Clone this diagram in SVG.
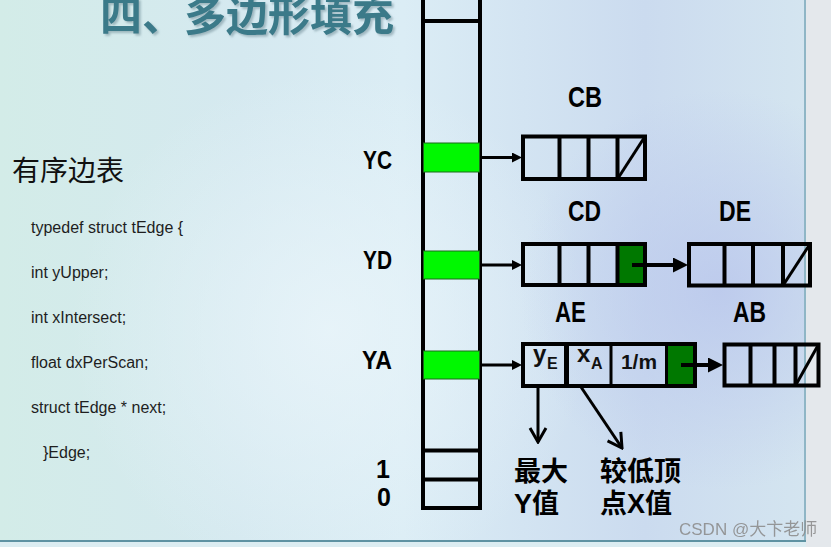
<svg xmlns="http://www.w3.org/2000/svg" width="831" height="547" viewBox="0 0 831 547">
<defs>
  <linearGradient id="bg" x1="0" y1="0" x2="1" y2="0">
    <stop offset="0" stop-color="#d3ece8"/>
    <stop offset="0.3" stop-color="#d5e9f0"/>
    <stop offset="0.5" stop-color="#dbedf5"/>
    <stop offset="0.8" stop-color="#cbdbef"/>
    <stop offset="1" stop-color="#d4e5f0"/>
  </linearGradient>
  <radialGradient id="blob" cx="720" cy="290" r="200" gradientUnits="userSpaceOnUse">
    <stop offset="0" stop-color="#b9c6ec" stop-opacity="0.8"/>
    <stop offset="1" stop-color="#b9c6ec" stop-opacity="0"/>
  </radialGradient>
  <radialGradient id="glow" cx="330" cy="330" r="260" gradientUnits="userSpaceOnUse">
    <stop offset="0" stop-color="#eaf5fa" stop-opacity="0.8"/>
    <stop offset="1" stop-color="#eaf5fa" stop-opacity="0"/>
  </radialGradient>
  <filter id="shadow" x="-5%" y="-30%" width="110%" height="160%">
    <feDropShadow dx="2" dy="2" stdDeviation="0.8" flood-color="#6f8f98" flood-opacity="0.55"/>
  </filter>
  <marker id="tri" viewBox="0 0 10 10" refX="4" refY="5" markerWidth="10" markerHeight="10" markerUnits="userSpaceOnUse" orient="auto">
    <path d="M0,0 L10,5 L0,10 z" fill="#000"/>
  </marker>
  <marker id="triBig" viewBox="0 0 15 15" refX="7" refY="7.5" markerWidth="15" markerHeight="15" markerUnits="userSpaceOnUse" orient="auto">
    <path d="M0,0 L15,7.5 L0,15 z" fill="#000"/>
  </marker>
  <marker id="vee" viewBox="-2 -11 18 22" refX="14" refY="0" markerWidth="18" markerHeight="22" markerUnits="userSpaceOnUse" orient="auto">
    <path d="M0,-8 L14,0 L0,8" fill="none" stroke="#000" stroke-width="3"/>
  </marker>
  <style>
    .box{fill:none;stroke:#000;stroke-width:4}
    .div{stroke:#000;stroke-width:4}
    .grn{fill:#00f800;stroke:#1a6a1a;stroke-width:1}
    .dg{fill:#007800}
    .lbl{font-family:"Liberation Sans",Arial,sans-serif;font-weight:bold;font-size:30px;fill:#000}
    .ylbl{font-family:"Liberation Sans",Arial,sans-serif;font-weight:bold;font-size:25px;fill:#000}
    .cell{font-family:"Liberation Sans",Arial,sans-serif;font-weight:bold;fill:#111}
    .cjk{font-family:"Liberation Sans","Noto Sans CJK SC",sans-serif;font-weight:bold;font-size:27px;fill:#000}
    .code{font-family:"Liberation Sans",Arial,sans-serif;font-size:16px;fill:#1e1e1e}
    .conn{stroke:#000;stroke-width:3;fill:none}
  </style>
</defs>

<!-- background -->
<rect x="0" y="0" width="831" height="547" fill="#e4e8ec"/>
<rect x="0" y="0" width="806" height="541" fill="url(#bg)"/>
<rect x="0" y="0" width="806" height="541" fill="url(#glow)"/>
<rect x="0" y="0" width="806" height="541" fill="url(#blob)"/>
<rect x="0" y="542" width="806" height="5" fill="#dcedf2"/>
<line x1="805" y1="0" x2="805" y2="541" stroke="#8fb6c6" stroke-width="2"/>
<line x1="0" y1="541" x2="806" y2="541" stroke="#5f93a3" stroke-width="2"/>

<!-- title -->
<g id="title">
  <text x="100" y="31" font-family="'Noto Sans CJK SC',sans-serif" font-weight="bold" font-size="42" fill="#3a7a89" filter="url(#shadow)">四、多边形填充</text>
</g>

<!-- left code -->
<g id="code">
  <text x="12" y="181" font-family="'Noto Sans CJK SC',sans-serif" font-size="28" fill="#111">有序边表</text>
  <text class="code" x="31" y="233">typedef struct tEdge {</text>
  <text class="code" x="31" y="278">int yUpper;</text>
  <text class="code" x="31" y="323">int xIntersect;</text>
  <text class="code" x="31" y="368">float dxPerScan;</text>
  <text class="code" x="31" y="413">struct tEdge * next;</text>
  <text class="code" x="43" y="458">}Edge;</text>
</g>

<!-- bucket column -->
<g id="bucket">
  <rect class="box" x="423" y="-10" width="57" height="518"/>
  <line class="div" x1="423" y1="21" x2="480" y2="21"/>
  <line class="div" x1="423" y1="450.5" x2="480" y2="450.5"/>
  <line class="div" x1="423" y1="479.5" x2="480" y2="479.5"/>
  <rect class="grn" x="423.5" y="143" width="56" height="29"/>
  <rect class="grn" x="423.5" y="251" width="56" height="28"/>
  <rect class="grn" x="423.5" y="351" width="56" height="28"/>
  <text class="ylbl" x="363" y="169" textLength="29" lengthAdjust="spacingAndGlyphs">YC</text>
  <text class="ylbl" x="363" y="269" textLength="29" lengthAdjust="spacingAndGlyphs">YD</text>
  <text class="ylbl" x="362" y="369" textLength="30" lengthAdjust="spacingAndGlyphs">YA</text>
  <text class="ylbl" x="383" y="478" font-size="24" text-anchor="middle">1</text>
  <text class="ylbl" x="384" y="506" font-size="24" text-anchor="middle">0</text>
</g>

<!-- CB -->
<g id="node-CB">
  <text class="lbl" x="568" y="107" textLength="34" lengthAdjust="spacingAndGlyphs">CB</text>
  <rect class="box" x="523" y="136.5" width="122" height="42.5"/>
  <line class="div" x1="559.5" y1="136.5" x2="559.5" y2="179"/>
  <line class="div" x1="588.5" y1="136.5" x2="588.5" y2="179"/>
  <line class="div" x1="617.5" y1="136.5" x2="617.5" y2="179"/>
  <line x1="617.5" y1="179" x2="645" y2="136.5" stroke="#000" stroke-width="3"/>
</g>

<!-- CD -->
<g id="node-CD">
  <text class="lbl" x="568" y="221" textLength="33" lengthAdjust="spacingAndGlyphs">CD</text>
  <rect class="dg" x="617.5" y="244" width="27.5" height="41"/>
  <rect class="box" x="523" y="244" width="122" height="41"/>
  <line class="div" x1="559.5" y1="244" x2="559.5" y2="285"/>
  <line class="div" x1="588.5" y1="244" x2="588.5" y2="285"/>
  <line class="div" x1="617.5" y1="244" x2="617.5" y2="285"/>
</g>

<!-- DE -->
<g id="node-DE">
  <text class="lbl" x="719" y="221" textLength="32" lengthAdjust="spacingAndGlyphs">DE</text>
  <rect class="box" x="689" y="244" width="121" height="41.5"/>
  <line class="div" x1="724.5" y1="244" x2="724.5" y2="285.5"/>
  <line class="div" x1="753" y1="244" x2="753" y2="285.5"/>
  <line class="div" x1="783" y1="244" x2="783" y2="285.5"/>
  <line x1="783" y1="285.5" x2="810" y2="244" stroke="#000" stroke-width="3"/>
</g>

<!-- AE -->
<g id="node-AE">
  <text class="lbl" x="555" y="322" textLength="31" lengthAdjust="spacingAndGlyphs">AE</text>
  <rect class="dg" x="667" y="344" width="28" height="42"/>
  <rect class="box" x="523" y="344" width="172" height="42"/>
  <line x1="566.5" y1="344" x2="566.5" y2="386" stroke="#000" stroke-width="5"/>
  <line x1="611" y1="344" x2="611" y2="386" stroke="#000" stroke-width="3"/>
  <line x1="666.5" y1="344" x2="666.5" y2="386" stroke="#000" stroke-width="3"/>
  <text class="cell" x="533" y="362" font-size="24">y</text>
  <text class="cell" x="547" y="369" font-size="16">E</text>
  <text class="cell" x="577" y="362" font-size="24">x</text>
  <text class="cell" x="591" y="369" font-size="16">A</text>
  <text class="cell" x="621" y="369" font-size="21" textLength="36" lengthAdjust="spacingAndGlyphs">1/m</text>
</g>

<!-- AB -->
<g id="node-AB">
  <text class="lbl" x="733" y="322" textLength="33" lengthAdjust="spacingAndGlyphs">AB</text>
  <rect class="box" x="724.5" y="344.5" width="94" height="41"/>
  <line class="div" x1="750.5" y1="344.5" x2="750.5" y2="385.5"/>
  <line class="div" x1="774.5" y1="344.5" x2="774.5" y2="385.5"/>
  <line class="div" x1="795.5" y1="344.5" x2="795.5" y2="385.5"/>
  <line x1="795.5" y1="385.5" x2="818.5" y2="344.5" stroke="#000" stroke-width="3"/>
</g>

<!-- annotations -->
<g id="label-ymax">
  <text class="cjk" x="514" y="481">最大</text>
  <text class="cjk" x="514" y="513">Y值</text>
</g>
<g id="label-xlow">
  <text class="cjk" x="600" y="481">较低顶</text>
  <text class="cjk" x="600" y="513">点X值</text>
</g>

<!-- connectors -->
<g id="connectors">
  <line class="conn" x1="482" y1="157.5" x2="516" y2="157.5" marker-end="url(#tri)"/>
  <line class="conn" x1="482" y1="265" x2="516" y2="265" marker-end="url(#tri)"/>
  <line class="conn" x1="482" y1="365" x2="516" y2="365" marker-end="url(#tri)"/>
  <line x1="632" y1="265" x2="680" y2="265" stroke="#000" stroke-width="4" marker-end="url(#triBig)"/>
  <line x1="681" y1="365" x2="715" y2="365" stroke="#000" stroke-width="4" marker-end="url(#triBig)"/>
  <line class="conn" x1="538" y1="387" x2="538" y2="442" marker-end="url(#vee)"/>
  <line class="conn" x1="581" y1="387" x2="622" y2="448" marker-end="url(#vee)"/>
</g>

<!-- watermark -->
<text x="679" y="535" font-family="'Liberation Sans','Noto Sans CJK SC',sans-serif" font-size="17" fill="#8e8e8e" opacity="0.9">CSDN @大卞老师</text>
</svg>
